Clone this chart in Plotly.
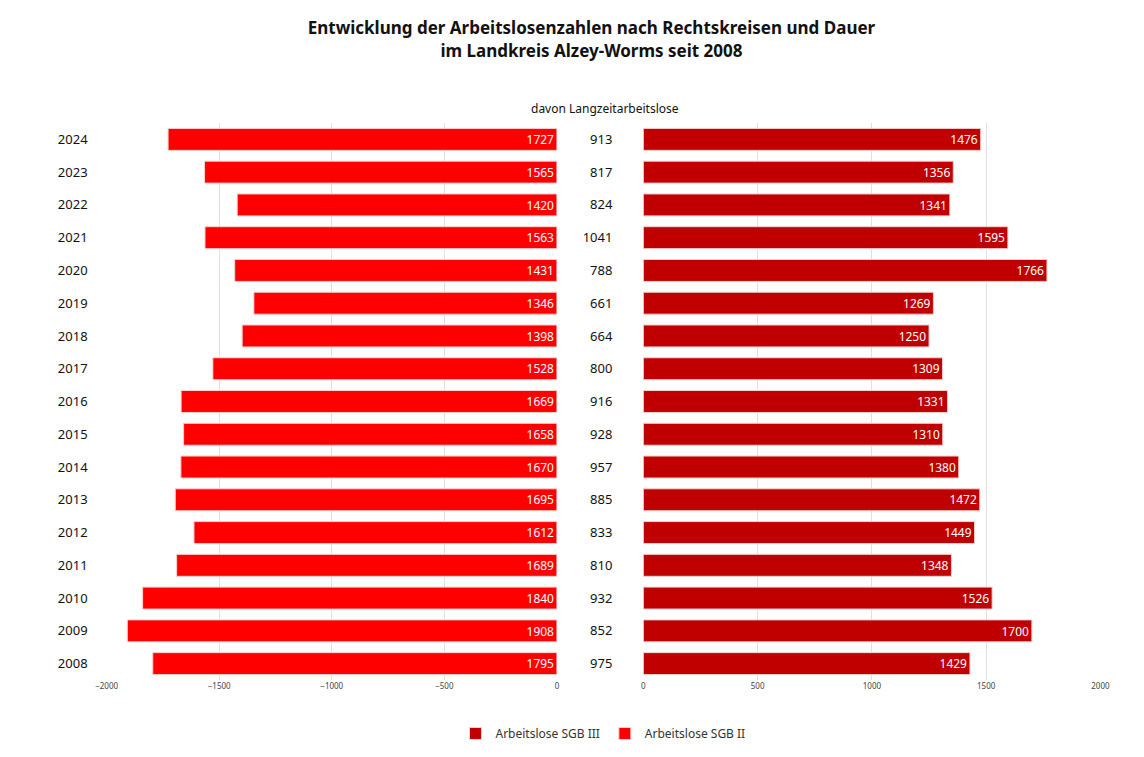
import plotly.graph_objects as go

years = [str(y) for y in range(2008, 2025)]
sgb2 = [1795, 1908, 1840, 1689, 1612, 1695, 1670, 1658, 1669, 1528, 1398, 1346, 1431, 1563, 1420, 1565, 1727]
sgb3 = [1429, 1700, 1526, 1348, 1449, 1472, 1380, 1310, 1331, 1309, 1250, 1269, 1766, 1595, 1341, 1356, 1476]
langzeit = [975, 852, 932, 810, 833, 885, 957, 928, 916, 800, 664, 661, 788, 1041, 824, 817, 913]

fig = go.Figure()

fig.add_trace(go.Bar(
    y=years, x=sgb3, orientation="h", name="Arbeitslose SGB III",
    marker=dict(color="#C00000", line=dict(color="#f3d0d0", width=1)),
    text=sgb3, textposition="inside", insidetextanchor="end",
    textfont=dict(color="white", size=18, family="Liberation Sans Narrow, Noto Sans"),
    xaxis="x2", yaxis="y2",
))
fig.add_trace(go.Bar(
    y=years, x=[-v for v in sgb2], orientation="h", name="Arbeitslose SGB II",
    marker=dict(color="#FF0000", line=dict(color="#f8d0d0", width=1)),
    text=sgb2, textposition="inside", insidetextanchor="start",
    textfont=dict(color="white", size=18, family="Liberation Sans Narrow, Noto Sans"),
    xaxis="x", yaxis="y",
))

axis_font = dict(size=8, color="#444")
fig.update_layout(
    width=1144, height=757,
    paper_bgcolor="white", plot_bgcolor="white",
    font=dict(family="Noto Sans", color="#222"),
    margin=dict(l=0, r=0, t=115, b=85),
    bargap=0.33,
    title=dict(text="<b>Entwicklung der Arbeitslosenzahlen nach Rechtskreisen und Dauer<br>im Landkreis Alzey-Worms seit 2008</b>",
               x=0.51, xanchor="center", y=0.965, yanchor="top", font=dict(size=17, color="#111")),
    xaxis=dict(domain=[0.078, 0.479], range=[-2000, 0], tickvals=[-2000, -1500, -1000, -500, 0],
               showgrid=True, gridcolor="#e0e0e0", zeroline=False, tickfont=axis_font, anchor="y"),
    xaxis2=dict(domain=[0.556, 0.963], range=[0, 2000], tickvals=[0, 500, 1000, 1500, 2000],
                showgrid=True, gridcolor="#e0e0e0", zeroline=False, tickfont=axis_font, anchor="y2"),
    yaxis=dict(type="category", categoryorder="array", categoryarray=years, anchor="x",
               tickfont=dict(size=13, color="#111"), ticklabelstandoff=18, showgrid=False),
    yaxis2=dict(type="category", categoryorder="array", categoryarray=years, anchor="x2",
                tickvals=years, ticktext=[str(v) for v in langzeit],
                tickfont=dict(size=13, color="#111"), ticklabelstandoff=30, showgrid=False),
    legend=dict(orientation="h", x=0.52, xanchor="center", y=-0.07, yanchor="top",
                font=dict(size=12, color="#333"), traceorder="normal"),
    annotations=[dict(text="davon Langzeitarbeitslose", x=0.522, xref="paper", xanchor="center",
                      y=1.0, yref="paper", yanchor="bottom", yshift=4, showarrow=False,
                      font=dict(size=12, color="#111"))],
)

fig.write_html("out.html")
